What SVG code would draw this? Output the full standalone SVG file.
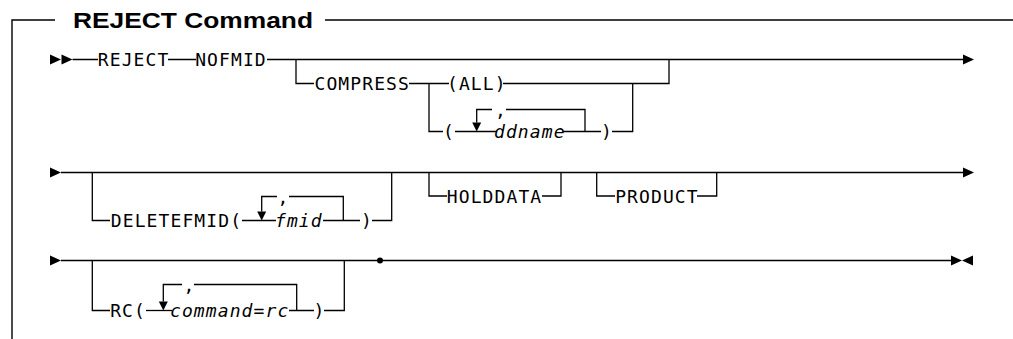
<svg xmlns="http://www.w3.org/2000/svg" xmlns:xlink="http://www.w3.org/1999/xlink" width="1013" height="339" viewBox="0 0 1013 339">
  <style>
    .bg { fill: #ffffff; }
    .frame { fill: none; stroke: #000; stroke-width: 1.4; }
    .title { font-family: "Liberation Sans", Arial, sans-serif; font-weight: bold; font-size: 22px; fill: #000; }
    .kw { font-family: "DejaVu Sans Mono", "Liberation Mono", monospace; font-size: 18px; letter-spacing: 1.1px; fill: #000; }
    .var { font-style: italic; }
    .wire { fill: none; stroke: #000; stroke-width: 1.3; }
    .head { fill: #000; stroke: none; }
  </style>
  <defs>
    <polygon id="tri-r" class="head" points="0,-5 11,0 0,5"/>
    <polygon id="tri-l" class="head" points="11,-5 0,0 11,5"/>
    <polygon id="tri-d" class="head" points="-4.5,-9 4.5,-9 0,0"/>
  </defs>

  <rect class="bg" x="0" y="0" width="1013" height="339"/>

  <!-- titled frame -->
  <g id="frame">
    <path class="frame" d="M12,339 V20 H55 M325,20 H1013"/>
    <text class="title" x="73" y="28" textLength="240" lengthAdjust="spacingAndGlyphs">REJECT Command</text>
  </g>

  <!-- track lines, branches, repeat loops and arrowheads -->
  <g id="connectors">
    <!-- row 1 -->
    <use xlink:href="#tri-r" x="50" y="59.5"/>
    <use xlink:href="#tri-r" x="61.5" y="59.5"/>
    <path class="wire" d="M72.5,59.5 H98 M168,59.5 H196 M267,59.5 H963"/>
    <use xlink:href="#tri-r" x="963" y="59.5"/>
    <path class="wire" d="M296,59.5 V83.5 H314"/>
    <path class="wire" d="M409,83.5 H449"/>
    <path class="wire" d="M429,83.5 V131.5 H443"/>
    <path class="wire" d="M503,83.5 H669 V59.5"/>
    <path class="wire" d="M455,131.5 H497"/>
    <use xlink:href="#tri-d" x="476.7" y="131.5"/>
    <path class="wire" d="M476.7,122.5 V109.5 H492"/>
    <path class="wire" d="M506,109.5 H585 V131.5"/>
    <path class="wire" d="M563,131.5 H601 M612,131.5 H632.7 V83.5"/>

    <!-- row 2 -->
    <use xlink:href="#tri-r" x="50" y="172.5"/>
    <path class="wire" d="M61,172.5 H963"/>
    <use xlink:href="#tri-r" x="963" y="172.5"/>
    <path class="wire" d="M92.3,172.5 V220.5 H110"/>
    <path class="wire" d="M242,220.5 H276"/>
    <use xlink:href="#tri-d" x="261.7" y="220.5"/>
    <path class="wire" d="M261.7,211.5 V196.5 H277"/>
    <path class="wire" d="M289,196.5 H343.3 V220.5"/>
    <path class="wire" d="M323,220.5 H360 M372,220.5 H391.7 V172.5"/>
    <path class="wire" d="M429,172.5 V196 H447 M542,196 H561 V172.5"/>
    <path class="wire" d="M596.7,172.5 V196 H615 M697,196 H716.7 V172.5"/>

    <!-- row 3 -->
    <use xlink:href="#tri-r" x="50" y="260.5"/>
    <path class="wire" d="M61,260.5 H951"/>
    <use xlink:href="#tri-r" x="951" y="260.5"/>
    <use xlink:href="#tri-l" x="962" y="260.5"/>
    <circle class="head" cx="380" cy="260.5" r="3"/>
    <path class="wire" d="M92.3,260.5 V310.5 H110"/>
    <path class="wire" d="M146,310.5 H172"/>
    <use xlink:href="#tri-d" x="163.3" y="310.5"/>
    <path class="wire" d="M163.3,301.5 V284.5 H182"/>
    <path class="wire" d="M194,284.5 H296.7 V310.5"/>
    <path class="wire" d="M289,310.5 H314 M324,310.5 H344.3 V260.5"/>
  </g>

  <!-- syntax items -->
  <g id="n-reject"><text class="kw" x="97.8" y="66">REJECT</text></g>
  <g id="n-nofmid"><text class="kw" x="195.2" y="66">NOFMID</text></g>
  <g id="n-compress"><text class="kw" x="314.5" y="90">COMPRESS</text></g>
  <g id="n-all"><text class="kw" x="447" y="90">(ALL)</text></g>
  <g id="n-ddname">
    <text class="kw" x="443" y="138">(</text>
    <text class="kw" x="495" y="116.5">,</text>
    <text class="kw var" x="494" y="138">ddname</text>
    <text class="kw" x="601" y="138">)</text>
  </g>
  <g id="n-deletefmid">
    <text class="kw" x="110.8" y="227">DELETEFMID(</text>
    <text class="kw" x="277.6" y="203.5">,</text>
    <text class="kw var" x="275" y="227">fmid</text>
    <text class="kw" x="361" y="227">)</text>
  </g>
  <g id="n-holddata"><text class="kw" x="446.8" y="202.5">HOLDDATA</text></g>
  <g id="n-product"><text class="kw" x="615.2" y="202.5">PRODUCT</text></g>
  <g id="n-rc">
    <text class="kw" x="110.2" y="317">RC(</text>
    <text class="kw" x="183.6" y="291.5">,</text>
    <text class="kw var" x="170" y="317">command=rc</text>
    <text class="kw" x="313.6" y="317">)</text>
  </g>
</svg>
